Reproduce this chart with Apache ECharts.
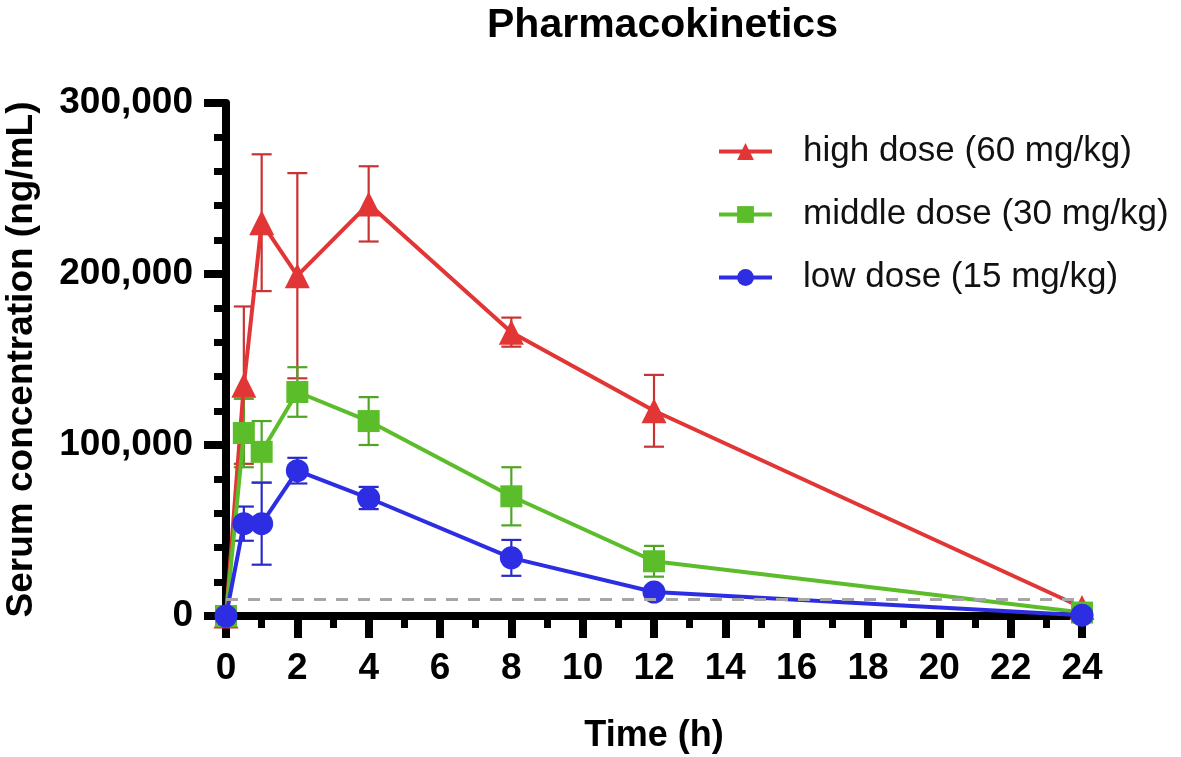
<!DOCTYPE html>
<html>
<head>
<meta charset="utf-8">
<title>Pharmacokinetics</title>
<script src="https://cdn.jsdelivr.net/npm/echarts@6/dist/echarts.min.js"></script>
<style>
  html, body { margin: 0; padding: 0; background: #fff; }
  #main { width: 1181px; height: 757px; }
</style>
</head>
<body>
<div id="main"></div>
<script>
// time points (h)
const timePoints = [0, 0.5, 1, 2, 4, 8, 12, 24];

// mean serum concentration (ng/mL)
const highMean = [0, 135000, 230000, 199000, 241000, 166000, 120000, 5000];
const highSd   = [0, 46000, 40000, 60000, 22000, 8500, 21000, 0];

const midMean = [0, 107000, 96000, 131000, 114000, 70000, 32000, 2000];
const midSd   = [0, 20000, 18000, 14500, 14000, 17000, 9000, 0];

const lowMean = [0, 54000, 54000, 85000, 69000, 34000, 14000, 500];
const lowSd   = [0, 10000, 24000, 7500, 6500, 10500, 2000, 0];

// lower limit of quantification
const lloq = 10000;

const seriesNames = ['high dose (60 mg/kg)', 'middle dose (30 mg/kg)', 'low dose (15 mg/kg)'];
const colors = ['#e23535', '#5cbd2a', '#2d2de3'];
const barColors = ['#c83434', '#4fa626', '#2a2ac8'];

const xTicks = ['0','2','4','6','8','10','12','14','16','18','20','22','24'];

function pairs(mean) {
  return timePoints.map((t, i) => [t, mean[i]]);
}
function errData(mean, sd) {
  const out = [];
  timePoints.forEach((t, i) => {
    if (sd[i] > 0) out.push([t, mean[i] - sd[i], mean[i] + sd[i]]);
  });
  return out;
}

// 误差棒
function errorSeries(mean, sd, color) {
  return {
    type: 'custom',
    silent: true,
    data: errData(mean, sd),
    encode: { x: 0, y: [1, 2] },
    renderItem: function (params, api) {
      const x = api.value(0);
      const lo = api.coord([x, api.value(1)]);
      const hi = api.coord([x, api.value(2)]);
      const w = 10;
      const style = { stroke: color, lineWidth: 2.2 };
      return {
        type: 'group',
        children: [
          { type: 'line', shape: { x1: lo[0], y1: lo[1], x2: hi[0], y2: hi[1] }, style: style },
          { type: 'line', shape: { x1: hi[0] - w, y1: hi[1], x2: hi[0] + w, y2: hi[1] }, style: style },
          { type: 'line', shape: { x1: lo[0] - w, y1: lo[1], x2: lo[0] + w, y2: lo[1] }, style: style }
        ]
      };
    },
    z: 1
  };
}

function lineSeries(name, mean, color, symbol, size) {
  return {
    name: name,
    type: 'line',
    data: pairs(mean),
    symbol: symbol,
    symbolSize: size,
    showAllSymbol: true,
    lineStyle: { color: color, width: 4 },
    itemStyle: { color: color },
    z: 3
  };
}

const chart = echarts.init(document.getElementById('main'));

const lowSeries = lineSeries(seriesNames[2], lowMean, colors[2], 'circle', 23);
lowSeries.markLine = {
  silent: true,
  symbol: 'none',
  label: { show: false },
  lineStyle: { color: '#a6a6a6', type: [12, 10], width: 3 },
  data: [{ yAxis: lloq }]
};

const option = {
  backgroundColor: '#fff',
  animation: false,
  title: {
    text: 'Pharmacokinetics',
    left: 482,
    top: 0,
    textStyle: { fontFamily: 'Liberation Sans', fontWeight: 'bold', fontSize: 41, color: '#000' }
  },
  legend: {
    orient: 'vertical',
    left: 717,
    top: 131,
    padding: 0,
    itemWidth: 53,
    itemHeight: 21,
    itemGap: 22,
    data: seriesNames,
    lineStyle: { width: 4 },
    textStyle: { fontFamily: 'Liberation Sans', fontSize: 35, color: '#111', lineHeight: 41, padding: [0, 0, 0, 26] }
  },
  grid: { left: 226, right: 99, top: 103, bottom: 141, outerBoundsMode: 'none' },
  xAxis: {
    type: 'value',
    min: 0,
    max: 24,
    interval: 2,
    name: 'Time (h)',
    nameLocation: 'middle',
    nameGap: 102,
    nameTextStyle: { fontFamily: 'Liberation Sans', fontWeight: 'bold', fontSize: 36, color: '#000' },
    axisLine: { onZero: false, lineStyle: { color: '#000', width: 8 } },
    axisTick: { length: 22, lineStyle: { color: '#000', width: 8 } },
    minorTick: { show: true, splitNumber: 2, length: 12, lineStyle: { color: '#000', width: 7 } },
    splitLine: { show: false },
    axisLabel: {
      margin: 34,
      fontFamily: 'Liberation Sans', fontWeight: 'bold', fontSize: 37, color: '#000',
      formatter: function (v) { return xTicks[v / 2]; }
    }
  },
  yAxis: {
    type: 'value',
    min: 0,
    max: 300000,
    interval: 100000,
    name: 'Serum concentration (ng/mL)',
    nameLocation: 'middle',
    nameGap: 186,
    nameTextStyle: { fontFamily: 'Liberation Sans', fontWeight: 'bold', fontSize: 37, color: '#000' },
    axisLine: { show: true, lineStyle: { color: '#000', width: 8 } },
    axisTick: { show: true, length: 22, lineStyle: { color: '#000', width: 8 } },
    minorTick: { show: true, splitNumber: 5, length: 12, lineStyle: { color: '#000', width: 7 } },
    splitLine: { show: false },
    axisLabel: {
      margin: 33,
      fontFamily: 'Liberation Sans', fontWeight: 'bold', fontSize: 37, color: '#000',
      formatter: function (v) { return v.toLocaleString('en-US'); }
    }
  },
  series: [
    errorSeries(highMean, highSd, barColors[0]),
    errorSeries(midMean, midSd, barColors[1]),
    errorSeries(lowMean, lowSd, barColors[2]),
    lineSeries(seriesNames[0], highMean, colors[0], 'triangle', 25),
    lineSeries(seriesNames[1], midMean, colors[1], 'rect', 22),
    lowSeries
  ]
};

chart.setOption(option);
</script>
</body>
</html>
